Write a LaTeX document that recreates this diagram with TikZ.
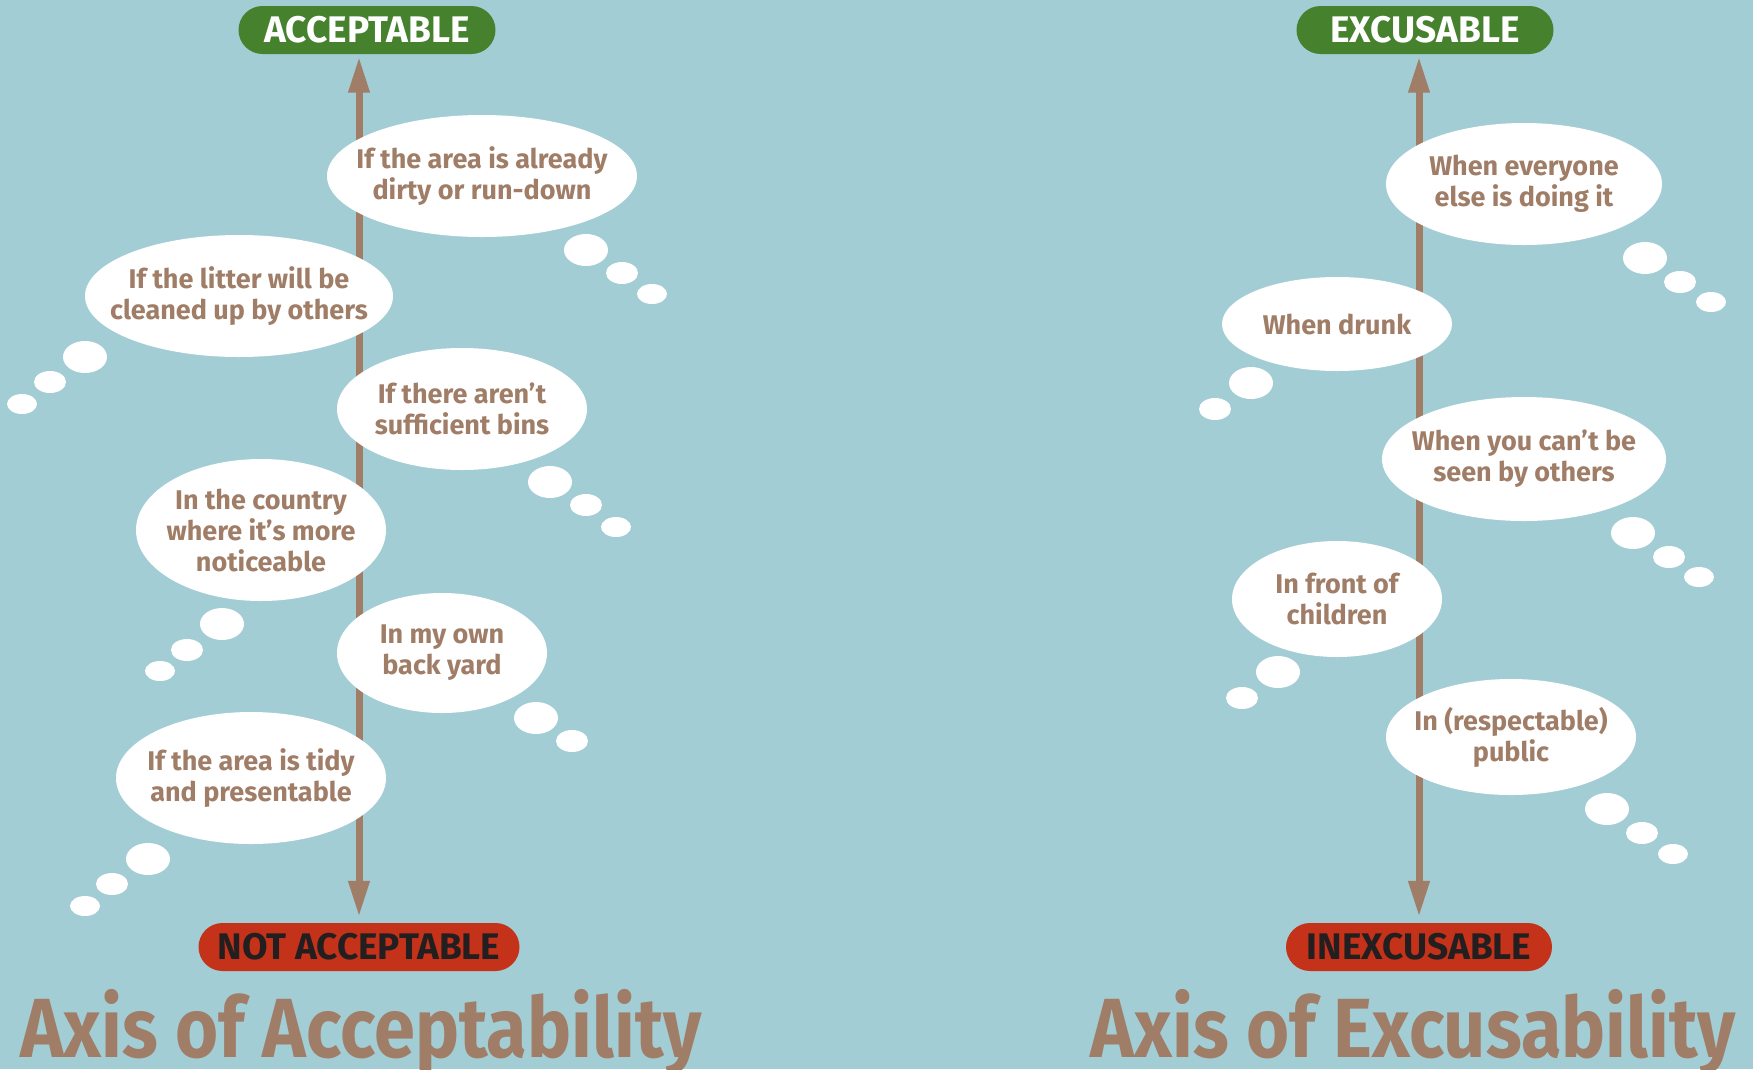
\documentclass[tikz,border=0pt]{standalone}
\usepackage{fontspec}
\setmainfont{Fira Sans}
\newfontfamily\titlefont{Fira Sans}[FakeStretch=0.88]
\usetikzlibrary{shapes.geometric,arrows.meta}

\definecolor{skyback}{RGB}{163,205,213}
\definecolor{mudbrown}{RGB}{160,125,103}
\definecolor{okgreen}{RGB}{70,130,45}
\definecolor{badred}{RGB}{196,50,26}
\definecolor{inkdark}{RGB}{35,31,32}

\tikzstyle{pill} = [rectangle, rounded corners=24pt, minimum height=48pt, inner sep=0pt, font=\bfseries\fontsize{37}{40}\selectfont]
\tikzstyle{goodpill} = [pill, fill=okgreen, text=white]
\tikzstyle{badpill} = [pill, fill=badred, text=inkdark]
\tikzstyle{axis} = [line width=7pt, draw=mudbrown, {Triangle[length=36pt,width=20pt]}-{Triangle[length=36pt,width=20pt]}, shorten <=6pt, shorten >=2.5pt]
\tikzstyle{thought} = [ellipse, fill=white, inner sep=0pt]
\tikzstyle{saying} = [align=center, text=mudbrown, inner sep=0pt, font=\bfseries\fontsize{27}{31}\selectfont]
\tikzstyle{puff} = [ellipse, fill=white, inner sep=0pt]
\tikzstyle{axistitle} = [text=mudbrown, inner sep=0pt, font=\titlefont\bfseries\fontsize{84}{90}\selectfont]

\begin{document}
\begin{tikzpicture}[x=1pt, y=-1pt]
        \useasboundingbox[fill=skyback] (0,0) rectangle (1753,1069);

        % ends of the axes
        \node (acc) [goodpill, minimum width=257pt] at (367,30) {ACCEPTABLE};
        \node (notacc) [badpill, minimum width=321pt] at (359,947) {NOT ACCEPTABLE};
        \node (exc) [goodpill, minimum width=257pt] at (1425,30) {EXCUSABLE};
        \node (inexc) [badpill, minimum width=266pt] at (1419,947) {INEXCUSABLE};

        \draw [axis] (notacc.north) -- (notacc.north |- acc.south);
        \draw [axis] (inexc.north) -- (inexc.north |- exc.south);

        % left axis thoughts
        \node (dirty) [thought, minimum width=310pt, minimum height=122pt] at (482,176) {};
        \node (litter) [thought, minimum width=308pt, minimum height=122pt] at (239,296) {};
        \node (bins) [thought, minimum width=250pt, minimum height=122pt] at (462,409) {};
        \node (country) [thought, minimum width=250pt, minimum height=142pt] at (261,530) {};
        \node (backyard) [thought, minimum width=210pt, minimum height=120pt] at (442,653) {};
        \node (tidy) [thought, minimum width=270pt, minimum height=132pt] at (251,778) {};

        % right axis thoughts
        \node (everyone) [thought, minimum width=276pt, minimum height=122pt] at (1524,184) {};
        \node (drunk) [thought, minimum width=230pt, minimum height=94pt] at (1337,324) {};
        \node (unseen) [thought, minimum width=284pt, minimum height=124pt] at (1524,459) {};
        \node (children) [thought, minimum width=210pt, minimum height=116pt] at (1337,599) {};
        \node (public) [thought, minimum width=250pt, minimum height=116pt] at (1511,737) {};

        \node (dirty_txt) [saying] at (dirty) {If the area is already\\dirty or run-down};
        \node (litter_txt) [saying] at (litter) {If the litter will be\\cleaned up by others};
        \node (bins_txt) [saying] at (bins) {If there aren’t\\sufficient bins};
        \node (country_txt) [saying] at (country) {In the country\\where it’s more\\noticeable};
        \node (backyard_txt) [saying] at (backyard) {In my own\\back yard};
        \node (tidy_txt) [saying] at (tidy) {If the area is tidy\\and presentable};
        \node (everyone_txt) [saying] at (everyone) {When everyone\\else is doing it};
        \node (drunk_txt) [saying] at (drunk) {When drunk};
        \node (unseen_txt) [saying] at (unseen) {When you can’t be\\seen by others};
        \node (children_txt) [saying] at (children) {In front of\\children};
        \node (public_txt) [saying] at (public) {In (respectable)\\public};

        % little thought puffs
        \foreach \px/\py/\pw/\ph [count=\i] in {
                586/250/44/32, 622/273/32/22, 652/294/30/20,
                85/357/44/32, 50/382/32/22, 22/404/30/20,
                550/482/44/32, 586/505/32/22, 616/527/30/20,
                222/624/44/32, 187/650/32/22, 160/671/30/20,
                536/718/44/32, 572/741/32/22,
                148/859/44/32, 112/884/32/22, 85/906/30/20,
                1645/258/44/32, 1680/282/32/22, 1711/302/30/20,
                1251/383/44/32, 1215/409/32/22,
                1633/533/44/32, 1669/557/32/22, 1699/577/30/20,
                1278/672/44/32, 1242/698/32/22,
                1607/809/44/32, 1642/833/32/22, 1673/854/30/20}
            \node (puff\i) [puff, minimum width=\pw pt, minimum height=\ph pt] at (\px,\py) {};

        \node (acc_title) [axistitle, anchor=base west] at (20,1057) {Axis of Acceptability};
        \node (exc_title) [axistitle, anchor=base east] at (1736,1057) {Axis of Excusability};
    \end{tikzpicture}
\end{document}
